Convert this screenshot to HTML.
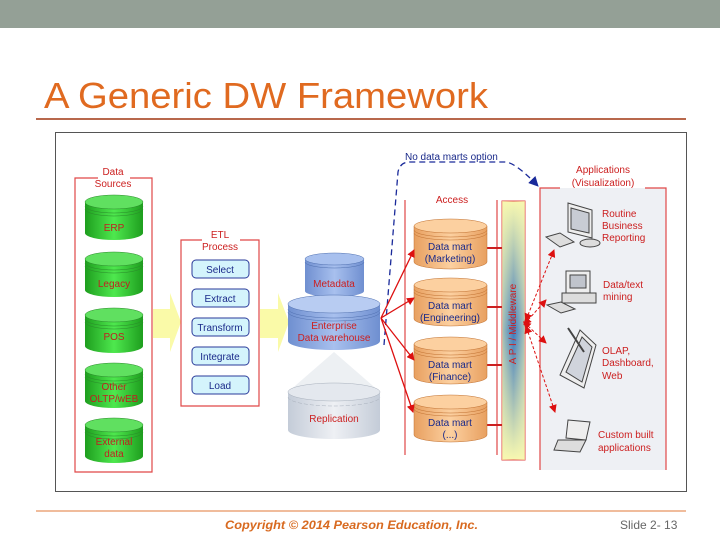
<!DOCTYPE html>
<html><head><meta charset="utf-8"><style>
body{margin:0;width:720px;height:540px;overflow:hidden;background:#fff;font-family:"Liberation Sans",sans-serif}
</style></head><body>
<svg width="720" height="540" viewBox="0 0 720 540" xmlns="http://www.w3.org/2000/svg" font-family="Liberation Sans, sans-serif">
<defs>
<linearGradient id="g" x1="0" x2="1"><stop offset="0" stop-color="#1e9e1e"/><stop offset="0.5" stop-color="#4ee84e"/><stop offset="1" stop-color="#1e9e1e"/></linearGradient>
<linearGradient id="o" x1="0" x2="1"><stop offset="0" stop-color="#e8a060"/><stop offset="0.5" stop-color="#fcd0a0"/><stop offset="1" stop-color="#e8a060"/></linearGradient>
<linearGradient id="b" x1="0" x2="1"><stop offset="0" stop-color="#6f8fd0"/><stop offset="0.5" stop-color="#a8c0ee"/><stop offset="1" stop-color="#6f8fd0"/></linearGradient>
<linearGradient id="l" x1="0" x2="1"><stop offset="0" stop-color="#c4ccd8"/><stop offset="0.5" stop-color="#eef0f4"/><stop offset="1" stop-color="#c4ccd8"/></linearGradient>
<linearGradient id="mw" x1="0" y1="0" x2="0" y2="1"><stop offset="0" stop-color="#f8f8b0"/><stop offset="0.5" stop-color="#3a78c0"/><stop offset="1" stop-color="#f8f8b0"/></linearGradient>
<linearGradient id="mwx" x1="0" x2="1"><stop offset="0" stop-color="#f8f8b0" stop-opacity="0.6"/><stop offset="0.5" stop-color="#f8f8b0" stop-opacity="0"/><stop offset="1" stop-color="#f8f8b0" stop-opacity="0.6"/></linearGradient>
<marker id="ra" markerWidth="8" markerHeight="8" refX="7" refY="4" orient="auto" markerUnits="userSpaceOnUse"><path d="M0,0 L8,4 L0,8z" fill="#dd1010"/></marker>
<marker id="rs" markerWidth="8" markerHeight="8" refX="1" refY="4" orient="auto-start-reverse" markerUnits="userSpaceOnUse"><path d="M0,0 L8,4 L0,8z" fill="#dd1010"/></marker>
<marker id="ba" markerWidth="10" markerHeight="10" refX="9" refY="5" orient="auto" markerUnits="userSpaceOnUse"><path d="M0,0 L10,5 L0,10z" fill="#1a2a9a"/></marker>
</defs>
<rect x="0" y="0" width="720" height="28" fill="#94a096"/>
<text x="44" y="108" font-size="36" fill="#e06a20" textLength="444" lengthAdjust="spacingAndGlyphs">A Generic DW Framework</text>
<line x1="36" y1="119" x2="686" y2="119" stroke="#b8684c" stroke-width="2"/>
<rect x="55.5" y="132.5" width="631" height="359" fill="#fff" stroke="#555" stroke-width="1"/>
<line x1="36" y1="511" x2="686" y2="511" stroke="#e07a3a" stroke-width="1"/>
<text x="225" y="529" font-size="12" font-weight="bold" font-style="italic" fill="#d86a20" textLength="253" lengthAdjust="spacingAndGlyphs">Copyright © 2014 Pearson Education, Inc.</text>
<text x="620" y="529" font-size="12" fill="#666">Slide 2- 13</text>

<path d="M98,178 H75 V472 H152 V178 H130" fill="none" stroke="#e04848" stroke-width="1.2"/>
<g font-size="10" fill="#cc2020" text-anchor="middle"><text x="113" y="175">Data</text><text x="113" y="187">Sources</text></g>
<g font-size="10" fill="#c02020" text-anchor="middle">
<g><path d="M85,202 v31 a29,7 0 0 0 58,0 v-31z" fill="url(#g)"/><ellipse cx="114" cy="202" rx="29" ry="7" fill="#60e060" stroke="#2a8a2a" stroke-width=".5"/><path d="M85,206 a29,7 0 0 0 58,0 M85,209 a29,7 0 0 0 58,0" fill="none" stroke="#2a8a2a" stroke-width=".5"/><text x="114" y="231">ERP</text></g>
<g><path d="M85,259 v31 a29,7 0 0 0 58,0 v-31z" fill="url(#g)"/><ellipse cx="114" cy="259" rx="29" ry="7" fill="#60e060" stroke="#2a8a2a" stroke-width=".5"/><path d="M85,263 a29,7 0 0 0 58,0 M85,266 a29,7 0 0 0 58,0" fill="none" stroke="#2a8a2a" stroke-width=".5"/><text x="114" y="287">Legacy</text></g>
<g><path d="M85,315 v31 a29,7 0 0 0 58,0 v-31z" fill="url(#g)"/><ellipse cx="114" cy="315" rx="29" ry="7" fill="#60e060" stroke="#2a8a2a" stroke-width=".5"/><path d="M85,319 a29,7 0 0 0 58,0 M85,322 a29,7 0 0 0 58,0" fill="none" stroke="#2a8a2a" stroke-width=".5"/><text x="114" y="340">POS</text></g>
<g><path d="M85,370 v31 a29,7 0 0 0 58,0 v-31z" fill="url(#g)"/><ellipse cx="114" cy="370" rx="29" ry="7" fill="#60e060" stroke="#2a8a2a" stroke-width=".5"/><path d="M85,374 a29,7 0 0 0 58,0 M85,377 a29,7 0 0 0 58,0" fill="none" stroke="#2a8a2a" stroke-width=".5"/><text x="114" y="390">Other</text><text x="114" y="402">OLTP/wEB</text></g>
<g><path d="M85,425 v31 a29,7 0 0 0 58,0 v-31z" fill="url(#g)"/><ellipse cx="114" cy="425" rx="29" ry="7" fill="#60e060" stroke="#2a8a2a" stroke-width=".5"/><path d="M85,429 a29,7 0 0 0 58,0 M85,432 a29,7 0 0 0 58,0" fill="none" stroke="#2a8a2a" stroke-width=".5"/><text x="114" y="445">External</text><text x="114" y="457">data</text></g>
</g>

<path d="M153,309 H170 V293 L181,322 L170,352 V338 H153z" fill="#fafaa8"/>
<path d="M260,309 H278 V293 L289,322 L278,352 V338 H260z" fill="#fafaa8"/>

<path d="M202,240 H181 V406 H259 V240 H240" fill="none" stroke="#e04848" stroke-width="1.2"/>
<g font-size="10" fill="#cc2020" text-anchor="middle"><text x="220" y="238">ETL</text><text x="220" y="250">Process</text></g>
<g fill="#d4f4fc" stroke="#2a3a9a" stroke-width="1">
<rect x="192" y="260" width="57" height="18" rx="4"/><rect x="192" y="289" width="57" height="18" rx="4"/><rect x="192" y="318" width="57" height="18" rx="4"/><rect x="192" y="347" width="57" height="18" rx="4"/><rect x="192" y="376" width="57" height="18" rx="4"/></g>
<g font-size="10" fill="#1a2a8a" text-anchor="middle"><text x="220" y="273">Select</text><text x="220" y="302">Extract</text><text x="220" y="331">Transform</text><text x="220" y="360">Integrate</text><text x="220" y="389">Load</text></g>

<path d="M305,259 v32 a29.5,6 0 0 0 59,0 v-32z" fill="url(#b)"/><ellipse cx="334.5" cy="259" rx="29.5" ry="6" fill="#a8c0ee" stroke="#5070b0" stroke-width=".5"/>
<path d="M305,262 a29.5,6 0 0 0 59,0" fill="none" stroke="#5070b0" stroke-width=".5"/>
<path d="M288,304 v37 a46,9 0 0 0 92,0 v-37z" fill="url(#b)"/><ellipse cx="334" cy="304" rx="46" ry="9" fill="#b8ccf2" stroke="#5070b0" stroke-width=".5"/>
<path d="M288,309 a46,9 0 0 0 92,0 M288,312 a46,9 0 0 0 92,0" fill="none" stroke="#5070b0" stroke-width=".5"/>
<path d="M334,352 L380,392 H288z" fill="#e8ecf0" opacity="0.8"/>
<path d="M288,392 v38 a46,9 0 0 0 92,0 v-38z" fill="url(#l)"/><ellipse cx="334" cy="392" rx="46" ry="9" fill="#e4e8ee" stroke="#a8b0bc" stroke-width=".5"/>
<path d="M288,397 a46,9 0 0 0 92,0" fill="none" stroke="#a8b0bc" stroke-width=".5" stroke-dasharray="4,2"/>
<g font-size="10" fill="#cc2020" text-anchor="middle"><text x="334" y="287">Metadata</text><text x="334" y="329">Enterprise</text><text x="334" y="341">Data warehouse</text><text x="334" y="422">Replication</text></g>

<path d="M384,345 L398,172 Q400,162 410,162 H505 Q515,162 538,186" fill="none" stroke="#1a2a9a" stroke-width="1.3" stroke-dasharray="6,4" marker-end="url(#ba)"/>
<text x="405" y="160" font-size="10" fill="#1a2a8a">No data marts option</text>

<line x1="405" y1="200" x2="405" y2="455" stroke="#e04848" stroke-width="1.2"/>
<line x1="497" y1="200" x2="497" y2="455" stroke="#e04848" stroke-width="1.2"/>
<text x="452" y="203" font-size="10" fill="#cc2020" text-anchor="middle">Access</text>
<rect x="502" y="201" width="23" height="259" fill="url(#mw)" stroke="#e04848" stroke-width="1"/>
<rect x="502" y="201" width="23" height="259" fill="url(#mwx)"/>
<text transform="translate(516,324) rotate(-90)" font-size="10" fill="#cc2020" text-anchor="middle">A P I   /   Middleware</text>
<g stroke="#cc2020" stroke-width="2"><line x1="487" y1="248" x2="502" y2="248"/><line x1="487" y1="307" x2="502" y2="307"/><line x1="487" y1="365" x2="502" y2="365"/><line x1="487" y1="425" x2="502" y2="425"/></g>
<g stroke="#c07030" stroke-width=".5">
<path d="M414,226 v36 a36.5,7 0 0 0 73,0 v-36z" fill="url(#o)"/><ellipse cx="450.5" cy="226" rx="36.5" ry="7" fill="#fcd0a0"/><path d="M414,230 a36.5,7 0 0 0 73,0 M414,233 a36.5,7 0 0 0 73,0" fill="none"/>
<path d="M414,285 v34 a36.5,7 0 0 0 73,0 v-34z" fill="url(#o)"/><ellipse cx="450.5" cy="285" rx="36.5" ry="7" fill="#fcd0a0"/><path d="M414,289 a36.5,7 0 0 0 73,0 M414,292 a36.5,7 0 0 0 73,0" fill="none"/>
<path d="M414,344 v33 a36.5,7 0 0 0 73,0 v-33z" fill="url(#o)"/><ellipse cx="450.5" cy="344" rx="36.5" ry="7" fill="#fcd0a0"/><path d="M414,348 a36.5,7 0 0 0 73,0 M414,351 a36.5,7 0 0 0 73,0" fill="none"/>
<path d="M414,402 v33 a36.5,7 0 0 0 73,0 v-33z" fill="url(#o)"/><ellipse cx="450.5" cy="402" rx="36.5" ry="7" fill="#fcd0a0"/><path d="M414,406 a36.5,7 0 0 0 73,0 M414,409 a36.5,7 0 0 0 73,0" fill="none"/>
</g>
<g font-size="10" fill="#1a2a8a" text-anchor="middle"><text x="450" y="250">Data mart</text><text x="450" y="262">(Marketing)</text><text x="450" y="309">Data mart</text><text x="450" y="321">(Engineering)</text><text x="450" y="368">Data mart</text><text x="450" y="380">(Finance)</text><text x="450" y="426">Data mart</text><text x="450" y="438">(...)</text></g>
<g stroke="#dd1010" stroke-width="1.3" marker-end="url(#ra)"><line x1="381" y1="318" x2="414" y2="250"/><line x1="381" y1="318" x2="414" y2="298"/><line x1="381" y1="318" x2="414" y2="360"/><line x1="381" y1="318" x2="413" y2="412"/></g>

<rect x="540" y="188" width="126" height="282" fill="#eef0f4"/>
<path d="M560,188 H540 V470 M666,470 V188 H645" fill="none" stroke="#e04848" stroke-width="1.2"/>
<g font-size="10" fill="#cc2020" text-anchor="middle"><text x="603" y="173">Applications</text><text x="603" y="186">(Visualization)</text></g>
<g font-size="10" fill="#cc2020"><text x="602" y="217">Routine</text><text x="602" y="229">Business</text><text x="602" y="241">Reporting</text>
<text x="603" y="288">Data/text</text><text x="603" y="300">mining</text>
<text x="602" y="354">OLAP,</text><text x="602" y="366">Dashboard,</text><text x="602" y="379">Web</text>
<text x="598" y="438">Custom built</text><text x="598" y="451">applications</text></g>
<g stroke="#dd1010" stroke-width="1" stroke-dasharray="3,2" marker-end="url(#ra)" marker-start="url(#rs)">
<line x1="528" y1="315" x2="554" y2="250"/><line x1="528" y1="320" x2="546" y2="300"/><line x1="528" y1="326" x2="546" y2="343"/><line x1="528" y1="332" x2="555" y2="412"/></g>
<g stroke="#444" stroke-width="1" fill="#ddd">
<path d="M568,203 L592,210 L592,238 L568,232z" fill="#eee"/><path d="M571,208 L589,213 L589,233 L571,229z" fill="#c8ccd4"/><ellipse cx="590" cy="243" rx="10" ry="4"/><path d="M546,237 L560,233 L574,242 L560,247z"/>
<path d="M566,271 L590,271 L590,293 L566,293z" fill="#eee"/><rect x="570" y="275" width="16" height="13" fill="#c0c4cc"/><path d="M562,293 L596,293 L596,303 L562,303z"/><path d="M547,305 L561,302 L575,309 L561,313z"/>
<path d="M580,330 L596,345 L584,388 L560,375z" fill="#eee"/><path d="M582,337 L592,347 L582,382 L566,372z" fill="#d0d4dc"/><line x1="568" y1="328" x2="584" y2="352" stroke-width="2"/>
<path d="M568,420 L590,422 L586,440 L566,438z" fill="#eee"/><path d="M558,440 L586,440 L580,452 L554,450z"/></g>
</svg>
</body></html>
